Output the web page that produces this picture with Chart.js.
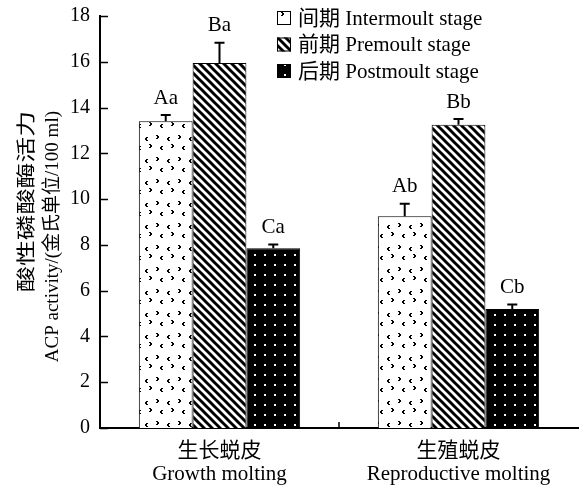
<!DOCTYPE html>
<html>
<head>
<meta charset="utf-8">
<script src="https://cdn.jsdelivr.net/npm/chart.js@4.4.1/dist/chart.umd.min.js"></script>
<style>
  html, body { margin: 0; padding: 0; background: #fff; }
  #wrap { width: 584px; height: 485px; position: relative; }
</style>
</head>
<body>
<div id="wrap"><canvas id="chart"></canvas></div>
<script>
// ─── Data ──────────────────────────────────────────────────────────────────
const CATEGORIES = [['生长蜕皮', 'Growth molting'], ['生殖蜕皮', 'Reproductive molting']];
const SERIES_NAMES = ['间期 Intermoult stage', '前期 Premoult stage', '后期 Postmoult stage'];
const INTERMOULT = [13.4, 9.25];
const PREMOULT = [15.95, 13.25];
const POSTMOULT = [7.85, 5.2];
const INTERMOULT_ERR = [0.27, 0.55];
const PREMOULT_ERR = [0.88, 0.25];
const POSTMOULT_ERR = [0.17, 0.2];
const INTERMOULT_LBL = ['Aa', 'Ab'];
const PREMOULT_LBL = ['Ba', 'Bb'];
const POSTMOULT_LBL = ['Ca', 'Cb'];
const Y_TICKS = [0, 2, 4, 6, 8, 10, 12, 14, 16, 18];

const FONT = '"Liberation Serif", "Times New Roman", "Noto Sans CJK SC", serif';

// ─── Fill patterns ─────────────────────────────────────────────────────────
function makePattern(w, h, draw) {
  const c = document.createElement('canvas');
  c.width = w; c.height = h;
  const g = c.getContext('2d');
  draw(g, w, h);
  return g.createPattern(c, 'repeat');
}

const PAT_INTER = makePattern(22, 22, (g, w, h) => {
  g.fillStyle = '#fff'; g.fillRect(0, 0, w, h);
  g.fillStyle = '#000';
  // small "<" and ">" flecks
  const gt = (x, y) => { g.fillRect(x, y, 2, 1); g.fillRect(x + 1, y + 1, 2, 2); g.fillRect(x, y + 3, 2, 1); };
  const lt = (x, y) => { g.fillRect(x + 1, y, 2, 1); g.fillRect(x, y + 1, 2, 2); g.fillRect(x + 1, y + 3, 2, 1); };
  gt(2, 3); lt(13, 5); lt(6, 14); gt(17, 12);
});

const PAT_PRE = makePattern(8, 8, (g, w, h) => {
  g.fillStyle = '#fff'; g.fillRect(0, 0, w, h);
  g.strokeStyle = '#000'; g.lineWidth = 3;
  for (let k = -2; k <= 2; k++) {
    g.beginPath(); g.moveTo(k * 8 - 1, -1); g.lineTo(k * 8 + 9, 9); g.stroke();
  }
});

const PAT_POST = makePattern(10, 10, (g, w, h) => {
  g.fillStyle = '#000'; g.fillRect(0, 0, w, h);
  g.fillStyle = '#fff'; g.fillRect(4, 4, 2, 2);
});

const PATTERNS = [PAT_INTER, PAT_PRE, PAT_POST];
const ERRORS = [INTERMOULT_ERR, PREMOULT_ERR, POSTMOULT_ERR];
const LETTERS = [INTERMOULT_LBL, PREMOULT_LBL, POSTMOULT_LBL];

// ─── Plugins ───────────────────────────────────────────────────────────────
const errorBars = {
  id: 'errorBars',
  afterDatasetsDraw(chart) {
    const { ctx } = chart;
    const y = chart.scales.y;
    ctx.save();
    ctx.strokeStyle = '#000';
    ctx.fillStyle = '#000';
    chart.data.datasets.forEach((ds, di) => {
      chart.getDatasetMeta(di).data.forEach((bar, i) => {
        const top = y.getPixelForValue(ds.data[i] + ERRORS[di][i]);
        ctx.lineWidth = 2;
        ctx.beginPath();
        ctx.moveTo(bar.x, bar.y); ctx.lineTo(bar.x, top);
        ctx.moveTo(bar.x - 5, top); ctx.lineTo(bar.x + 5, top);
        ctx.stroke();
        ctx.font = `21px ${FONT}`;
        ctx.textAlign = 'center';
        ctx.textBaseline = 'middle';
        ctx.fillText(LETTERS[di][i], bar.x, top - 17);
      });
    });
    ctx.restore();
  }
};

const axisExtras = {
  id: 'axisExtras',
  afterDraw(chart) {
    const { ctx, chartArea } = chart;
    const x = chart.scales.x, y = chart.scales.y;
    ctx.save();
    ctx.strokeStyle = '#000';
    ctx.lineWidth = 1.5;
    // inward ticks on y
    Y_TICKS.forEach(v => {
      const py = Math.round(y.getPixelForValue(v)) + 0.5;
      ctx.beginPath(); ctx.moveTo(chartArea.left, py); ctx.lineTo(chartArea.left + 8, py); ctx.stroke();
    });
    // inward tick between categories
    const mid = (x.getPixelForValue(0) + x.getPixelForValue(1)) / 2;
    ctx.beginPath(); ctx.moveTo(mid, chartArea.bottom); ctx.lineTo(mid, chartArea.bottom - 6); ctx.stroke();

    // legend, top right
    ctx.fillStyle = '#000';
    ctx.textBaseline = 'middle';
    ctx.textAlign = 'left';
    ctx.font = `21px ${FONT}`;
    SERIES_NAMES.forEach((name, i) => {
      const cy = 18 + i * 26.5;
      ctx.fillStyle = PATTERNS[i];
      ctx.fillRect(277, cy - 7, 14, 14);
      ctx.lineWidth = 1;
      ctx.strokeRect(277.5, cy - 6.5, 13, 13);
      ctx.fillStyle = '#000';
      ctx.fillText(name, 298, cy + 1);
    });

    // y axis title, two lines, aligned at the top end
    ctx.save();
    ctx.textAlign = 'right';
    ctx.translate(0, 111);
    ctx.rotate(-Math.PI / 2);
    ctx.font = `19px ${FONT}`;
    ctx.fillText('ACP activity/(金氏单位/100 ml)', 0, 53);
    ctx.scale(1.36, 1);
    ctx.font = `19px ${FONT}`;
    ctx.fillText('酸性磷酸酶活力', 0, 28);
    ctx.restore();
    ctx.restore();
  }
};

// ─── Chart ─────────────────────────────────────────────────────────────────
const ctx = document.getElementById('chart').getContext('2d');
new Chart(ctx, {
  type: 'bar',
  data: {
    labels: CATEGORIES,
    datasets: [INTERMOULT, PREMOULT, POSTMOULT].map((vals, i) => ({
      label: SERIES_NAMES[i],
      data: vals,
      backgroundColor: PATTERNS[i],
      borderColor: '#000',
      borderWidth: 1,
      borderSkipped: 'bottom',
      categoryPercentage: 0.675,
      barPercentage: 1
    }))
  },
  options: {
    responsive: true, maintainAspectRatio: false, animation: false,
    layout: { padding: { top: 16, right: 6, left: 0, bottom: 0 } },
    plugins: {
      tooltip: { enabled: false },
      legend: { display: false }
    },
    scales: {
      x: {
        grid: { display: false, drawTicks: false },
        border: { color: '#000', width: 2 },
        ticks: { color: '#000', font: { family: FONT, size: 21, lineHeight: 1.08 }, padding: 12 },
        afterFit(s) { s.height = 57; s.paddingLeft = 0; s.paddingRight = 0; }
      },
      y: {
        min: 0, max: 18,
        grid: { display: false, drawTicks: false },
        border: { color: '#000', width: 2 },
        ticks: { stepSize: 2, color: '#000', font: { family: FONT, size: 20 }, padding: 10 },
        afterFit(s) { s.width = 100; s.paddingTop = 0; s.paddingBottom = 0; }
      }
    }
  },
  plugins: [errorBars, axisExtras]
});
</script>
</body>
</html>
